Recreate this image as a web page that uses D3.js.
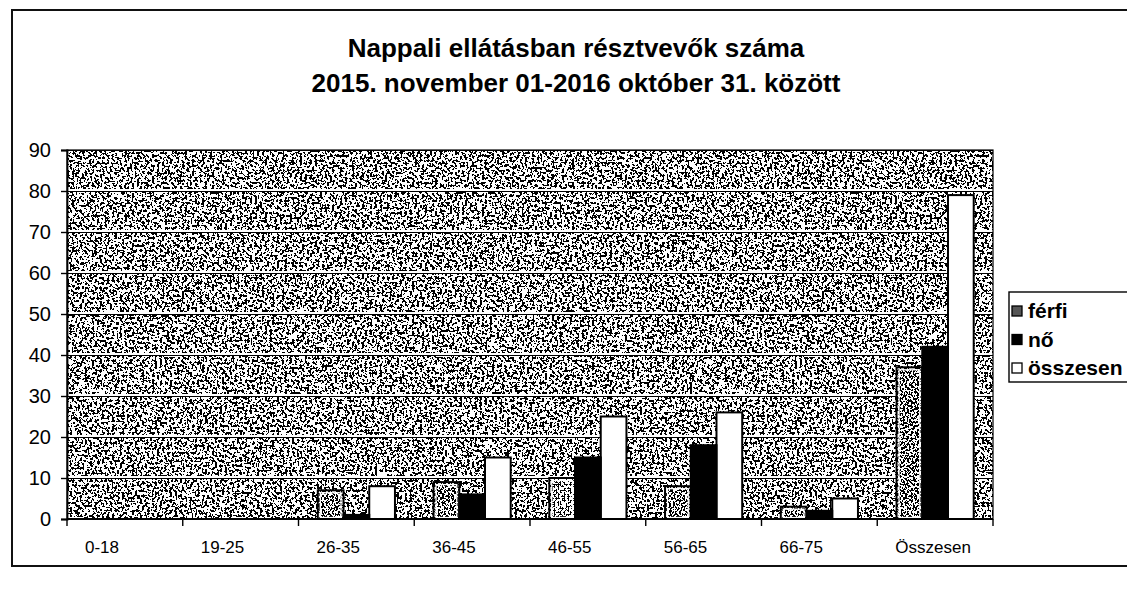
<!DOCTYPE html>
<html>
<head>
<meta charset="utf-8">
<script src="https://cdn.jsdelivr.net/npm/d3@7"></script>
<style>
  body { margin: 0; background: #fff; }
  svg { display: block; font-family: "Liberation Sans", Arial, sans-serif; }
</style>
</head>
<body>
<svg id="chart" width="1127" height="591"></svg>
<script>
const categories = ['0-18', '19-25', '26-35', '36-45', '46-55', '56-65', '66-75', 'Összesen']
const series = ['férfi', 'nő', 'összesen']
const ferfi = [0, 0, 7, 9, 10, 8, 3, 37]
const no = [0, 0, 1, 6, 15, 18, 2, 42]
const osszesen = [0, 0, 8, 15, 25, 26, 5, 79]
const yTicks = [0, 10, 20, 30, 40, 50, 60, 70, 80, 90]
const titleLines = ['Nappali ellátásban résztvevők száma', '2015. november 01-2016 október 31. között']

const plot = { left: 67, top: 150, right: 993, bottom: 519 }

const data = categories.map((c, i) => ({
  cat: c,
  values: [
    { key: 'férfi', v: ferfi[i] },
    { key: 'nő', v: no[i] },
    { key: 'összesen', v: osszesen[i] },
  ],
}))

const svg = d3.select('#chart')
const defs = svg.append('defs')

// discrete table: first `dark` of `n` steps go black, rest white
function table(dark, n) {
  return d3.range(n).map(i => (i < dark ? 0 : 1)).join(' ')
}

// speckled "scanned" texture
function speckle(id, freq, tbl, seed) {
  const f = defs.append('filter').attr('id', id)
    .attr('x', 0).attr('y', 0).attr('width', 1).attr('height', 1)
  f.append('feTurbulence').attr('type', 'fractalNoise')
    .attr('baseFrequency', freq).attr('numOctaves', 2).attr('seed', seed).attr('result', 'n')
  f.append('feColorMatrix').attr('type', 'matrix')
    .attr('values', '1 0 0 0 0  1 0 0 0 0  1 0 0 0 0  0 0 0 0 1').attr('result', 'g')
  const ct = f.append('feComponentTransfer').attr('result', 't')
  ;['feFuncR', 'feFuncG', 'feFuncB'].forEach(fn => ct.append(fn).attr('type', 'discrete').attr('tableValues', tbl))
  f.append('feComposite').attr('in', 't').attr('in2', 'SourceGraphic').attr('operator', 'in')
}
speckle('bgTex', 0.4, table(47, 100), 3)
speckle('mTex', 0.5, table(50, 100), 7)
speckle('noTex', 0.9, table(19, 20), 11)
speckle('osTex', 0.9, table(1, 20), 5)

const texture = { 'férfi': 'url(#mTex)', 'nő': 'url(#noTex)', 'összesen': 'url(#osTex)' }

// outer frame
svg.append('rect')
  .attr('x', 12).attr('y', 10).attr('width', 1130).attr('height', 556)
  .attr('fill', 'none').attr('stroke', '#111').attr('stroke-width', 2)

// title
svg.append('g').selectAll('text')
  .data(titleLines)
  .join('text')
    .attr('x', 576)
    .attr('y', (d, i) => 57 + i * 35)
    .attr('text-anchor', 'middle')
    .attr('font-size', 26)
    .attr('font-weight', 'bold')
    .attr('fill', '#000')
    .text(d => d)

const x0 = d3.scaleBand()
  .domain(categories)
  .range([plot.left, plot.right])

const x1 = d3.scaleBand()
  .domain(series)
  .range([0, x0.bandwidth()])
  .paddingOuter(0.75)

const y = d3.scaleLinear()
  .domain([0, 90])
  .range([plot.bottom, plot.top])

// plot background
svg.append('rect')
  .attr('x', plot.left).attr('y', plot.top)
  .attr('width', plot.right - plot.left).attr('height', plot.bottom - plot.top)
  .attr('fill', '#777')
  .attr('filter', 'url(#bgTex)')

// gridlines: light ridge with a thin dark edge, like the scan
const grid = svg.append('g')
grid.selectAll('line.w')
  .data(yTicks.slice(1))
  .join('line')
    .attr('class', 'w')
    .attr('x1', plot.left).attr('x2', plot.right)
    .attr('y1', d => y(d) - 1).attr('y2', d => y(d) - 1)
    .attr('stroke', '#fff').attr('stroke-width', 2)
grid.selectAll('line.b')
  .data(yTicks.slice(1))
  .join('line')
    .attr('class', 'b')
    .attr('x1', plot.left).attr('x2', plot.right)
    .attr('y1', d => y(d) + 0.5).attr('y2', d => y(d) + 0.5)
    .attr('stroke', '#000').attr('stroke-width', 1)

svg.append('rect')
  .attr('x', plot.left).attr('y', plot.top)
  .attr('width', plot.right - plot.left).attr('height', plot.bottom - plot.top)
  .attr('fill', 'none').attr('stroke', '#000').attr('stroke-width', 1.2)

// bars
const groups = svg.append('g').selectAll('g')
  .data(data)
  .join('g')
    .attr('transform', d => `translate(${x0(d.cat)},0)`)

groups.selectAll('rect.fill')
  .data(d => d.values.filter(v => v.v > 0))
  .join('rect')
    .attr('class', 'fill')
    .attr('x', d => x1(d.key))
    .attr('y', d => y(d.v))
    .attr('width', x1.bandwidth())
    .attr('height', d => y(0) - y(d.v))
    .attr('fill', '#000')
    .attr('filter', d => texture[d.key])

// férfi bars show a light inner rim in the scan
groups.selectAll('rect.rim')
  .data(d => d.values.filter(v => v.v > 0 && v.key === 'férfi'))
  .join('rect')
    .attr('class', 'rim')
    .attr('x', d => x1(d.key) + 2.5)
    .attr('y', d => y(d.v) + 2.5)
    .attr('width', x1.bandwidth() - 5)
    .attr('height', d => Math.max(0, y(0) - y(d.v) - 4))
    .attr('fill', 'none')
    .attr('stroke', '#fff')
    .attr('stroke-width', 1.3)

groups.selectAll('rect.edge')
  .data(d => d.values.filter(v => v.v > 0))
  .join('rect')
    .attr('class', 'edge')
    .attr('x', d => x1(d.key))
    .attr('y', d => y(d.v))
    .attr('width', x1.bandwidth())
    .attr('height', d => y(0) - y(d.v))
    .attr('fill', 'none')
    .attr('stroke', '#000')
    .attr('stroke-width', 2)

// y axis
const yAxis = svg.append('g')
  .attr('transform', `translate(${plot.left},0)`)
  .call(d3.axisLeft(y).tickValues(yTicks).tickSize(6).tickPadding(10))
yAxis.select('.domain').attr('stroke', '#000').attr('stroke-width', 1.8)
yAxis.selectAll('.tick line').attr('stroke', '#000').attr('stroke-width', 1.4)
yAxis.selectAll('.tick text')
  .attr('font-size', 20).attr('font-family', '"Liberation Sans", Arial, sans-serif').attr('fill', '#000')

// x axis: ticks sit on band boundaries
const xAxis = svg.append('g')
  .attr('transform', `translate(0,${plot.bottom})`)
xAxis.append('line')
  .attr('x1', plot.left).attr('x2', plot.right)
  .attr('stroke', '#000').attr('stroke-width', 1.8)
xAxis.selectAll('line.tick')
  .data(categories.concat(['end']))
  .join('line')
    .attr('class', 'tick')
    .attr('x1', d => d === 'end' ? plot.right : x0(d))
    .attr('x2', d => d === 'end' ? plot.right : x0(d))
    .attr('y1', 0).attr('y2', 7)
    .attr('stroke', '#000').attr('stroke-width', 1.4)
xAxis.selectAll('text')
  .data(categories)
  .join('text')
    .attr('x', d => x0(d) + 18)
    .attr('y', 34)
    .attr('font-size', 17)
    .attr('fill', '#000')
    .text(d => d)

// legend
const legend = svg.append('g').attr('transform', 'translate(1009,292)')
legend.append('rect')
  .attr('width', 130).attr('height', 90)
  .attr('fill', '#fff').attr('stroke', '#000').attr('stroke-width', 1.4)
const items = legend.selectAll('g')
  .data(series)
  .join('g')
    .attr('transform', (d, i) => `translate(3,${19 + i * 28.5})`)
items.append('rect')
  .attr('x', 0).attr('y', -5).attr('width', 10).attr('height', 10)
  .attr('fill', d => d === 'nő' ? '#000' : d === 'összesen' ? '#fff' : '#555')
items.append('rect')
  .attr('x', 0).attr('y', -5).attr('width', 10).attr('height', 10)
  .attr('fill', 'none').attr('stroke', '#000').attr('stroke-width', 1.3)
items.append('text')
  .attr('x', 16).attr('y', 7)
  .attr('font-size', 21)
  .attr('font-weight', 'bold')
  .attr('fill', '#000')
  .text(d => d)
</script>
</body>
</html>
